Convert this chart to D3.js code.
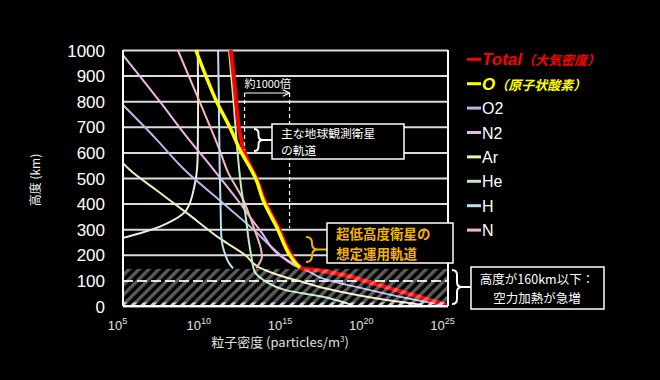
<!DOCTYPE html>
<html>
<head>
<meta charset="utf-8">
<script src="https://cdn.jsdelivr.net/npm/d3@7"></script>
<style>
  body { margin: 0; background: #000; }
  text { font-family: "Liberation Sans", Arial, sans-serif; }
  .jp { font-family: "Noto Sans CJK JP", sans-serif; }
</style>
</head>
<body>
<div id="chart"></div>
<script>
// axis ticks
const altTicks = [0, 100, 200, 300, 400, 500, 600, 700, 800, 900, 1000];
const expTicks = [5, 10, 15, 20, 25];

// each point: [log10 density (particles/m3), altitude km], from high to low altitude
const total = [[11.63,1000],[11.81,900],[11.96,800],[12.12,700],[12.27,650],[12.48,600],[12.8,550],[13.2,500],
  [13.7,414],[14.6,300],[15.35,200],[15.98,148],[17.1,139],[18.3,125],[20.3,90],[22.4,51],[24.9,4]];
const oxygen = [[9.48,1000],[10.09,900],[10.75,800],[11.56,700],[12.28,600],[12.73,550],[13.15,500],
  [13.62,414],[14.52,300],[15.25,200],[15.65,165],[15.9,150]];
const o2 = [[5,785],[7,655],[8.8,531],[11.0,410],[13,300],[14.5,210],[15.5,160],[16.5,133],[17.1,112],
  [20,65],[22.5,30],[24.7,4]];
const n2 = [[5,980],[7.25,800],[9,655],[10.6,531],[12.05,414],[13.5,290],[14.8,191],[15.6,162],[16.1,148],
  [17.1,137],[18.3,123],[20.3,88],[22.4,49],[24.8,4]];
const ar = [[5,558],[5.43,531],[7,455],[9,360],[11,262],[12.5,200],[13.4,150],[14.5,122],[16,95],
  [17.5,68],[20,36],[23.4,4]];
const he = [[11.52,1000],[11.8,800],[12.05,600],[12.3,450],[12.55,350],[12.75,250],[12.9,193],[13.1,134],
  [13.4,113],[13.8,95],[15.0,62],[17.3,36],[19.1,4]];
const hyd = [[10.85,1000],[10.9,800],[10.95,531],[11.0,400],[11.05,271],[11.15,230],[11.3,200],[11.5,170],[11.77,147]];
const nitro = [[8.37,1000],[9.7,800],[11.0,600],[11.4,531],[12.4,414],[13.1,297],[13.5,219],[13.55,190],
  [13.4,168],[13.2,148]];
// pale curve without its own legend entry
const extra = [[9.6,1000],[9.62,800],[9.6,600],[9.55,531],[9.4,470],[8.9,375],[8.1,335],[7.27,310],[6.0,283],[5.0,266]];

// reference markers
const orbitObs = 12.48;   // 約1000倍 left dashed line
const orbitLow = 15.25;   // right dashed line
const heatAlt = 145;      // top of hatched band

const series = [
  {name: "extra", data: extra, color: "#eeeed6", w: 2},
  {name: "Ar", data: ar, color: "#eeeebc", w: 2},
  {name: "O2", data: o2, color: "#b8b8ec", w: 2},
  {name: "N2", data: n2, color: "#f0b4ec", w: 2},
  {name: "N", data: nitro, color: "#f4baba", w: 2},
  {name: "H", data: hyd, color: "#b8e0f2", w: 2},
  {name: "He", data: he, color: "#c0ecc0", w: 2},
  {name: "Total", data: total, color: "#ff0000", w: 4},
  {name: "O", data: oxygen, color: "#ffff00", w: 3.5}
];

const legend = [
  {label: "Total", sub: "（大気密度）", color: "#ff0000", txt: "#ff0000"},
  {label: "O", sub: "（原子状酸素）", color: "#ffff00", txt: "#ffff00"},
  {label: "O2", color: "#b8b8ec", txt: "#ffffff"},
  {label: "N2", color: "#f0b4ec", txt: "#ffffff"},
  {label: "Ar", color: "#eeeebc", txt: "#ffffff"},
  {label: "He", color: "#c0ecc0", txt: "#ffffff"},
  {label: "H", color: "#b8e0f2", txt: "#ffffff"},
  {label: "N", color: "#f4baba", txt: "#ffffff"}
];

const W = 660, H = 380;
const plotL = 123, plotR = 448, plotT = 50, plotB = 306;

const svg = d3.select("#chart").append("svg")
  .attr("width", W).attr("height", H)
  .style("background", "#000");

const x = d3.scaleLog().domain([1e5, 1e25]).range([plotL, plotR]);
const y = d3.scaleLinear().domain([0, 1000]).range([plotB, plotT]);

// hatch patterns
const defs = svg.append("defs");
const pat = defs.append("pattern").attr("id", "hatch")
  .attr("patternUnits", "userSpaceOnUse").attr("width", 7).attr("height", 7)
  .attr("patternTransform", "rotate(45)");
pat.append("rect").attr("width", 3.4).attr("height", 7).attr("fill", "#fff").attr("opacity", 0.36);
const pat2 = defs.append("pattern").attr("id", "hatch2")
  .attr("patternUnits", "userSpaceOnUse").attr("width", 7).attr("height", 7)
  .attr("patternTransform", "rotate(45)");
pat2.append("rect").attr("width", 3).attr("height", 7).attr("fill", "#fff").attr("opacity", 0.7);

// y axis with gridlines
const yAxis = svg.append("g")
  .attr("transform", "translate(" + plotL + ",0)")
  .call(d3.axisLeft(y).tickValues(altTicks).tickFormat(d3.format("d"))
    .tickSize(-(plotR - plotL)).tickPadding(18));
yAxis.select(".domain").remove();
yAxis.selectAll(".tick line")
  .attr("stroke", "#dcdcdc").attr("stroke-width", 2)
  .attr("stroke-dasharray", d => d === 100 ? "10,4" : null);
yAxis.selectAll(".tick text")
  .attr("fill", "#fff").style("font-size", "17px").attr("dy", "0.36em");

// x axis labels 10^n
const xAxis = svg.append("g")
  .attr("transform", "translate(0," + plotB + ")")
  .call(d3.axisBottom(x).tickValues(expTicks.map(e => Math.pow(10, e))).tickSize(0).tickFormat(""));
xAxis.select(".domain").remove();
xAxis.selectAll(".tick").each(function(d, i) {
  const t = d3.select(this).append("text")
    .attr("x", -6).attr("y", 24).attr("fill", "#e0e0e0")
    .attr("text-anchor", "middle").style("font-size", "13px");
  t.append("tspan").text("10");
  t.append("tspan").attr("dy", -6).style("font-size", "9px").text(expTicks[i]);
});

// curves (altitude falls monotonically along each series)
const line = d3.line()
  .x(d => x(Math.pow(10, d[0])))
  .y(d => y(d[1]))
  .curve(d3.curveMonotoneY);

const plot = svg.append("g");
plot.selectAll("path.curve")
  .data(series)
  .enter()
  .append("path")
  .attr("class", "curve")
  .attr("d", d => line(d.data))
  .attr("fill", "none")
  .attr("stroke", d => d.color)
  .attr("stroke-width", d => d.w)
  .attr("stroke-linejoin", "round");

// hatched low-altitude band over the curves
svg.append("rect")
  .attr("x", plotL).attr("width", plotR - plotL)
  .attr("y", y(heatAlt)).attr("height", y(0) - y(heatAlt))
  .attr("fill", "url(#hatch)");
svg.append("rect")
  .attr("x", plotL).attr("width", plotR - plotL)
  .attr("y", y(14)).attr("height", y(0) - y(14))
  .attr("fill", "url(#hatch2)");

// frame
svg.append("line").attr("x1", plotL).attr("x2", plotL).attr("y1", plotT).attr("y2", plotB)
  .attr("stroke", "#fff").attr("stroke-width", 2);
svg.append("line").attr("x1", plotR).attr("x2", plotR).attr("y1", plotT).attr("y2", plotB)
  .attr("stroke", "#fff").attr("stroke-width", 2);
svg.append("line").attr("x1", plotL).attr("x2", plotR).attr("y1", plotB).attr("y2", plotB)
  .attr("stroke", "#fff").attr("stroke-width", 2);

// axis titles
svg.append("text").attr("class", "jp")
  .attr("transform", "translate(40,180) rotate(-90)")
  .attr("text-anchor", "middle").attr("fill", "#f0f0f0").style("font-size", "12px")
  .text("高度 (km)");
const xt = svg.append("text").attr("class", "jp")
  .attr("x", 280).attr("y", 347).attr("text-anchor", "middle")
  .attr("fill", "#e0e0e0").style("font-size", "13px");
xt.append("tspan").text("粒子密度 (particles/m");
xt.append("tspan").attr("dy", -5).style("font-size", "8px").text("3");
xt.append("tspan").attr("dy", 5).text(")");

// 約1000倍 annotation
const xa = x(Math.pow(10, orbitObs)), xb = x(Math.pow(10, orbitLow));
defs.append("marker").attr("id", "arr").attr("viewBox", "0 0 10 10")
  .attr("refX", 9).attr("refY", 5).attr("markerWidth", 7).attr("markerHeight", 7)
  .attr("orient", "auto")
  .append("path").attr("d", "M1,1 L9,5 L1,9").attr("fill", "none").attr("stroke", "#fff").attr("stroke-width", 1.3);
svg.append("line").attr("x1", xa).attr("x2", xb).attr("y1", 93).attr("y2", 93)
  .attr("stroke", "#fff").attr("stroke-width", 1.2).attr("marker-end", "url(#arr)");
svg.append("line").attr("x1", xa).attr("x2", xa).attr("y1", 93).attr("y2", 150)
  .attr("stroke", "#fff").attr("stroke-width", 1.2).attr("stroke-dasharray", "4,3");
svg.append("line").attr("x1", xb).attr("x2", xb).attr("y1", 93).attr("y2", 228)
  .attr("stroke", "#fff").attr("stroke-width", 1.2).attr("stroke-dasharray", "4,3");
svg.append("text").attr("class", "jp").attr("x", xa).attr("y", 88)
  .attr("fill", "#fff").style("font-size", "11px").text("約1000倍");

function bracePath(bx, y0, y1, w) {
  const m = (y0 + y1) / 2, h = w / 2;
  return `M${bx},${y0} Q${bx + h},${y0} ${bx + h},${y0 + h} L${bx + h},${m - h} ` +
    `Q${bx + h},${m} ${bx + w},${m} Q${bx + h},${m} ${bx + h},${m + h} ` +
    `L${bx + h},${y1 - h} Q${bx + h},${y1} ${bx},${y1}`;
}

// brace + boxed two-line note; lines spaced by the font's full line box
function callout(bx, y0, y1, w, boxX, boxY, boxW, boxH, color, lines, tx, size, weight, anchor) {
  const m = (y0 + y1) / 2;
  const lh = size * 1.45;
  svg.append("path").attr("d", bracePath(bx, y0, y1, w) + ` M${bx + w},${m} L${boxX},${m}`)
    .attr("fill", "none").attr("stroke", color).attr("stroke-width", 2);
  svg.append("rect").attr("x", boxX).attr("y", boxY).attr("width", boxW).attr("height", boxH)
    .attr("fill", "#000").attr("stroke", "#fff").attr("stroke-width", 1.5);
  const top0 = boxY + (boxH - lh * lines.length) / 2;
  lines.forEach((s, i) => {
    svg.append("text").attr("class", "jp")
      .attr("x", tx).attr("y", top0 + i * lh + size * 1.16)
      .attr("text-anchor", anchor)
      .attr("fill", color).style("font-size", size + "px").style("font-weight", weight)
      .text(s);
  });
}

callout(254, 129, 151, 9, 272, 124, 132, 35, "#ffffff",
  ["主な地球観測衛星", "の軌道"], 281, 11.8, "normal", "start");
callout(306, 237, 262, 12, 327, 223, 126, 40, "#f2b400",
  ["超低高度衛星の", "想定運用軌道"], 336, 13.5, "bold", "start");
callout(452, 270, 304, 10, 471, 267, 133, 42, "#ffffff",
  ["高度が160km以下：", "空力加熱が急増"], 537, 12.5, "normal", "middle");

// legend
const lg = svg.append("g");
legend.forEach((d, i) => {
  const ly = 59.3 + i * 24.4;
  lg.append("line").attr("x1", 467).attr("x2", 481).attr("y1", ly).attr("y2", ly)
    .attr("stroke", d.color).attr("stroke-width", 3);
  const t = lg.append("text").attr("x", 482).attr("y", ly + 6).attr("fill", d.txt);
  if (d.sub) {
    t.append("tspan").style("font-size", "17px").style("font-style", "italic").style("font-weight", "bold").text(d.label);
    t.append("tspan").attr("class", "jp").style("font-size", "13px").style("font-style", "italic")
      .style("font-weight", "bold").text(d.sub);
  } else {
    t.style("font-size", "16px").text(d.label);
  }
});
</script>
</body>
</html>
